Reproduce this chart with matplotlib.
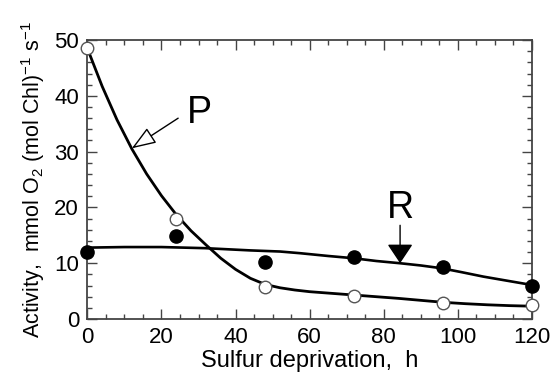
import numpy as np
import matplotlib
matplotlib.use("Agg")
import matplotlib.pyplot as plt
from matplotlib.ticker import MultipleLocator

plt.rcParams['font.family'] = ['Liberation Sans', 'DejaVu Sans']
plt.rcParams['mathtext.fontset'] = 'custom'
plt.rcParams['mathtext.rm'] = 'Liberation Sans'

# measured points
hours = [0, 24, 48, 72, 96, 120]
p_activity = [48.5, 18.0, 5.8, 4.2, 2.8, 2.5]   # open circles
r_activity = [12.0, 14.8, 10.3, 11.1, 9.3, 5.9]  # filled circles

# fitted curves
p_curve_x = [0, 4, 8, 12, 16, 20, 24, 28, 32, 36, 40, 44, 48, 52, 56, 60, 66, 72, 78, 84, 90, 96, 102, 108, 114, 120]
p_curve_y = [48.5, 41.7, 35.7, 30.5, 26.0, 22.1, 18.7, 15.8, 13.3, 10.9, 8.9, 7.3, 6.2, 5.6, 5.2, 4.9, 4.6, 4.3, 4.0, 3.7, 3.35, 3.0, 2.75, 2.55, 2.4, 2.3]
r_curve_x = [0, 10, 20, 31.8, 44, 52, 57.4, 65, 71.8, 78, 84.4, 90, 95.6, 101, 106.9, 113, 120]
r_curve_y = [12.8, 12.9, 12.9, 12.7, 12.3, 12.1, 11.8, 11.3, 10.9, 10.4, 10.0, 9.6, 9.1, 8.4, 7.6, 6.9, 6.1]

fig = plt.figure(figsize=(5.53, 3.78), dpi=100)
ax = fig.add_axes([0.158, 0.156, 0.804, 0.738])

ax.plot(p_curve_x, p_curve_y, color='black', lw=2.0, zorder=2)
ax.plot(r_curve_x, r_curve_y, color='black', lw=1.9, zorder=2)
ax.plot(hours, p_activity, 'o', ms=9, mfc='white', mec='#555555', mew=1.0, zorder=3, clip_on=False)
ax.plot(hours, r_activity, 'o', ms=9.5, mfc='black', mec='black', zorder=3, clip_on=False)

# labels with arrows
ax.text(26.9, 35.1, 'P', fontsize=27, ha='left', va='baseline')
ax.annotate('', xy=(12, 30.6), xytext=(24.5, 36.0),
            arrowprops=dict(arrowstyle='-|>,head_length=1.5,head_width=0.55', fc='white', ec='black',
                            lw=1.0, shrinkA=0, shrinkB=0, mutation_scale=10))
ax.text(84.4, 18.1, 'R', fontsize=27, ha='center', va='baseline')
ax.annotate('', xy=(84.4, 10.0), xytext=(84.4, 16.8),
            arrowprops=dict(arrowstyle='-|>,head_length=1.2,head_width=0.8', fc='black', ec='black',
                            lw=1.0, shrinkA=0, shrinkB=0, mutation_scale=10))

ax.set_xlim(0, 120)
ax.set_ylim(0, 50)
ax.xaxis.set_major_locator(MultipleLocator(20))
ax.xaxis.set_minor_locator(MultipleLocator(5))
ax.yaxis.set_major_locator(MultipleLocator(10))
ax.yaxis.set_minor_locator(MultipleLocator(2))
ax.tick_params(which='both', direction='in', top=True, right=True, labelsize=16, width=1.0, color='#444444')
ax.tick_params(which='major', length=7, pad=6)
ax.tick_params(which='minor', length=3.5)
for s in ax.spines.values():
    s.set_linewidth(1.3)
    s.set_color('#444444')

ax.set_xlabel('Sulfur deprivation,  h', fontsize=17, labelpad=1)
ax.set_ylabel(r'Activity,  mmol O$_2$ (mol Chl)$^{-1}$ s$^{-1}$', fontsize=15.5, labelpad=5)

fig.savefig('out.png', dpi=100)
